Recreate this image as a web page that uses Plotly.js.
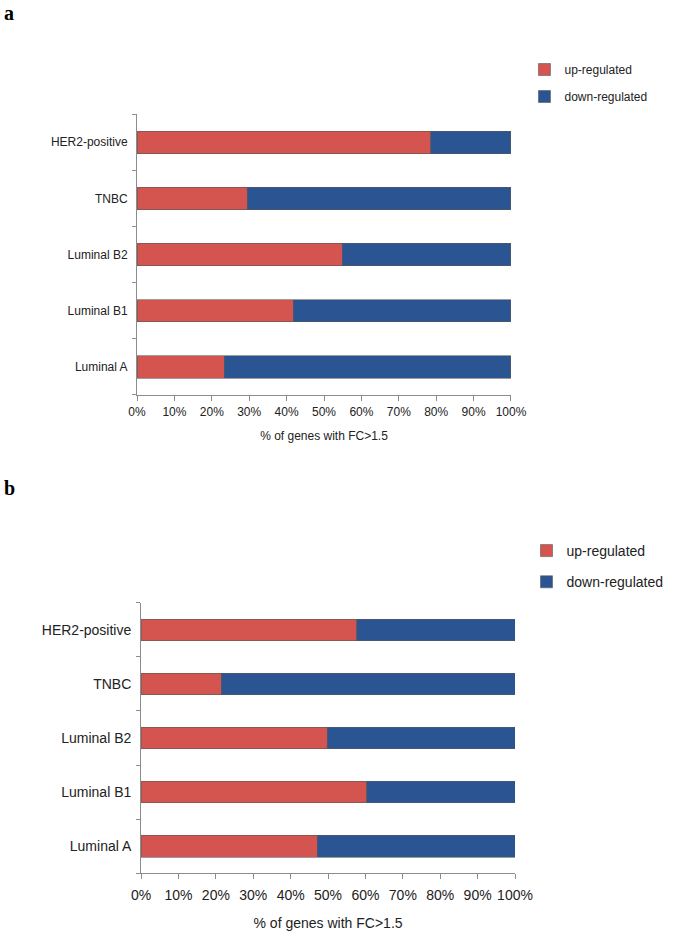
<!DOCTYPE html>
<html>
<head>
<meta charset="utf-8">
<script src="https://cdn.plot.ly/plotly-3.0.1.min.js"></script>
<style>
  body { margin: 0; background: #fff; }
  #myDiv { width: 675px; height: 936px; }
</style>
</head>
<body>
<div id="myDiv"></div>
<script>
var subtypes = ['Luminal A', 'Luminal B1', 'Luminal B2', 'TNBC', 'HER2-positive'];

// panel a
var upA = [23.3, 41.8, 54.9, 29.5, 78.5];
var downA = [76.7, 58.2, 45.1, 70.5, 21.5];

// panel b
var upB = [47.1, 60.3, 49.8, 21.4, 57.7];
var downB = [52.9, 39.7, 50.2, 78.6, 42.3];

var xTicks = [0, 10, 20, 30, 40, 50, 60, 70, 80, 90, 100];
var xTickText = ['0%', '10%', '20%', '30%', '40%', '50%', '60%', '70%', '80%', '90%', '100%'];
var xTitle = '% of genes with FC>1.5';

var red = '#D4544F';
var blue = '#2A5592';
var font = 'Liberation Sans Narrow, Liberation Sans, Arial, sans-serif';

function bars(vals, name, color, xa, ya, leg) {
  return {
    type: 'bar',
    orientation: 'h',
    y: subtypes,
    x: vals,
    name: name,
    xaxis: xa,
    yaxis: ya,
    legend: leg,
    legendgroup: leg + name,
    marker: { color: color, line: { color: '#5a5a5a', width: 0.6 } },
    hoverinfo: 'x+y'
  };
}

var data = [
  bars(upA, 'up-regulated', red, 'x', 'y', 'legend'),
  bars(downA, 'down-regulated', blue, 'x', 'y', 'legend'),
  bars(upB, 'up-regulated', red, 'x2', 'y2', 'legend2'),
  bars(downB, 'down-regulated', blue, 'x2', 'y2', 'legend2')
];

function xaxis(domain, anchor, size, labelGap, standoff) {
  return {
    domain: domain,
    anchor: anchor,
    range: [0, 100],
    tickmode: 'array',
    tickvals: xTicks,
    ticktext: xTickText,
    showgrid: false,
    zeroline: false,
    showline: true,
    linecolor: '#8c8c8c',
    linewidth: 1,
    ticks: 'outside',
    ticklen: 5,
    tickcolor: '#8c8c8c',
    ticklabelstandoff: labelGap,
    tickfont: { family: font, size: size, color: '#222' },
    title: { text: xTitle, font: { family: font, size: size, color: '#222' }, standoff: standoff },
    fixedrange: true
  };
}

function yaxis(domain, anchor, size) {
  return {
    domain: domain,
    anchor: anchor,
    type: 'category',
    showgrid: false,
    zeroline: false,
    showline: true,
    linecolor: '#8c8c8c',
    linewidth: 1,
    ticks: 'outside',
    tickson: 'boundaries',
    ticklen: 4,
    tickcolor: '#8c8c8c',
    ticklabelstandoff: 6,
    tickfont: { family: font, size: size, color: '#222' },
    fixedrange: true
  };
}

var layout = {
  width: 675,
  height: 936,
  margin: { l: 0, r: 0, t: 0, b: 0 },
  paper_bgcolor: '#fff',
  plot_bgcolor: '#fff',
  barmode: 'stack',
  bargap: 0.6,
  showlegend: true,
  xaxis: xaxis([0.203, 0.757], 'y', 12, 1, 13),
  yaxis: yaxis([0.578, 0.878], 'x', 12),
  xaxis2: xaxis([0.209, 0.763], 'y2', 14, 4, 16),
  yaxis2: yaxis([0.067, 0.356], 'x2', 14),
  legend: {
    x: 0.777, y: 1 - 55 / 936, xanchor: 'left', yanchor: 'top',
    font: { family: font, size: 12, color: '#222' },
    tracegroupgap: 8, traceorder: 'grouped', itemwidth: 30,
    bgcolor: 'rgba(0,0,0,0)'
  },
  legend2: {
    x: 0.78, y: 1 - 535 / 936, xanchor: 'left', yanchor: 'top',
    font: { family: font, size: 14, color: '#222' },
    tracegroupgap: 10, traceorder: 'grouped', itemwidth: 30,
    bgcolor: 'rgba(0,0,0,0)'
  },
  annotations: [
    { text: '<b>a</b>', xref: 'paper', yref: 'paper', x: 0.003, y: 1,
      xanchor: 'left', yanchor: 'top', showarrow: false,
      font: { family: 'Liberation Serif, DejaVu Serif, serif', size: 20, color: '#000' } },
    { text: '<b>b</b>', xref: 'paper', yref: 'paper', x: 0.003, y: 1 - 475 / 936,
      xanchor: 'left', yanchor: 'top', showarrow: false,
      font: { family: 'Liberation Serif, DejaVu Serif, serif', size: 20, color: '#000' } }
  ]
};

Plotly.newPlot('myDiv', data, layout, { displayModeBar: false, staticPlot: true });
</script>
</body>
</html>
